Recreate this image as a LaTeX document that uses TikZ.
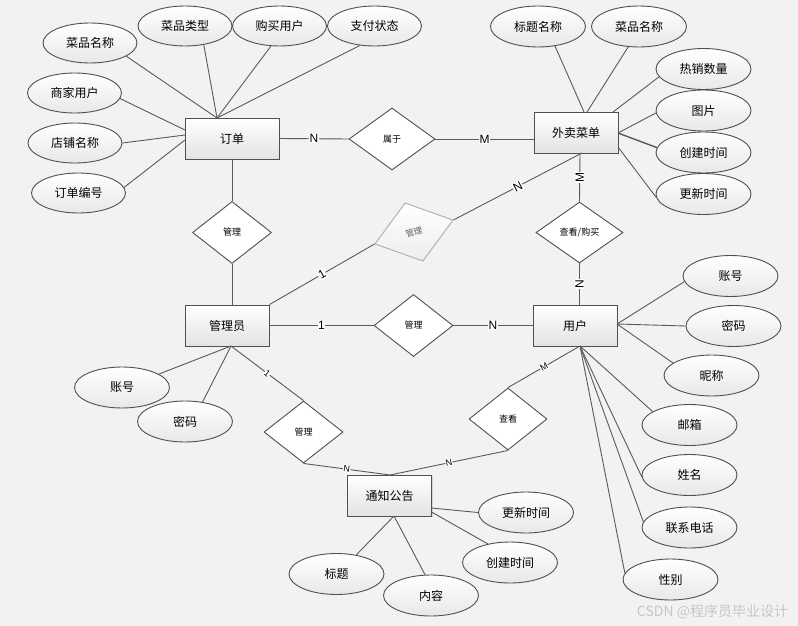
\documentclass[tikz,border=0pt]{standalone}
\usepackage{fontspec}
\setmainfont{Liberation Sans}
\newfontfamily\cjk{Noto Sans CJK SC}
\usetikzlibrary{shapes.geometric,shadows}
\definecolor{bg}{HTML}{F2F2F2}
\definecolor{ln}{HTML}{5A5A5A}
\definecolor{bd}{HTML}{505050}
\begin{document}
\begin{tikzpicture}[x=1pt,y=-1pt,
  attr/.style={ellipse,draw=bd,line width=0.9pt,top color=white,bottom color=gray!18,minimum width=95pt,minimum height=41pt,inner sep=0pt,font=\cjk\fontsize{12}{12}\selectfont},
  ent/.style={rectangle,draw=bd,line width=0.9pt,top color=white,bottom color=gray!22,minimum width=84pt,minimum height=41pt,inner sep=0pt,font=\cjk\fontsize{12}{12}\selectfont,drop shadow={shadow xshift=1pt,shadow yshift=-1pt,opacity=0.25}},
  rel/.style={diamond,draw=bd,line width=0.9pt,fill=white,minimum width=79pt,minimum height=62pt,inner sep=0pt,font=\cjk\fontsize{9}{9}\selectfont},
  card/.style={fill=white,inner sep=0.6pt,font=\fontsize{12}{12}\selectfont},
  cards/.style={fill=white,inner sep=0.4pt,font=\fontsize{9}{9}\selectfont},
  conn/.style={draw=ln,line width=0.9pt}
]
\fill[bg] (0,0) rectangle (798,626);
\useasboundingbox (0,0) rectangle (798,626);

% entities
\node[ent,minimum width=94pt] (dd) at (232,138.5) {订单};
\node[ent] (wm) at (576,132.5) {外卖菜单};
\node[ent] (gly) at (227,325.5) {管理员};
\node[ent] (yh) at (575,325.5) {用户};
\node[ent] (tz) at (389.5,495.5) {通知公告};

% relationships
\node[rel,minimum width=86pt] (sy) at (392,139) {属于};
\node[rel] (gl1) at (232,232.5) {管理};
\node[rel,minimum width=87pt,minimum height=61pt] (ckgm) at (579.5,232.5) {查看/购买};
\node[rel] (gl2) at (413.5,325.5) {管理};
\node[rel,minimum width=82pt,minimum height=61pt,rotate=17,draw=gray!65,top color=white,bottom color=gray!14,text=gray!75!black,font=\cjk\fontsize{8.5}{8.5}\selectfont] (gd) at (414,232) {管理};
\node[rel] (gl3) at (303.5,432) {管理};
\node[rel,minimum width=78pt] (ck) at (508,419) {查看};

% attributes of 订单
\node[attr,minimum width=94pt,minimum height=40pt] (a1) at (90,43) {菜品名称};
\node[attr,minimum width=94pt,minimum height=40pt] (a2) at (185,26) {菜品类型};
\node[attr,minimum width=94pt,minimum height=40pt] (a3) at (279.5,26) {购买用户};
\node[attr,minimum width=94pt,minimum height=40pt] (a4) at (374.5,26) {支付状态};
\node[attr,minimum width=94pt,minimum height=40pt] (a5) at (74.5,93) {商家用户};
\node[attr,minimum width=94pt,minimum height=40pt] (a6) at (75,143) {店铺名称};
\node[attr,minimum width=94pt,minimum height=40pt] (a7) at (78.5,193) {订单编号};
% attributes of 外卖菜单
\node[attr] (b1) at (538,26.5) {标题名称};
\node[attr] (b2) at (639,26.5) {菜品名称};
\node[attr] (b3) at (703.5,69) {热销数量};
\node[attr] (b4) at (703.5,110.5) {图片};
\node[attr] (b5) at (703.5,152.5) {创建时间};
\node[attr] (b6) at (703.5,194) {更新时间};
% attributes of 管理员
\node[attr] (c1) at (122,387.5) {账号};
\node[attr] (c2) at (185,421.5) {密码};
% attributes of 用户
\node[attr] (d1) at (730.5,276) {账号};
\node[attr] (d2) at (733.5,326) {密码};
\node[attr] (d3) at (711.5,375.5) {昵称};
\node[attr] (d4) at (689.5,425) {邮箱};
\node[attr] (d5) at (689.5,475) {姓名};
\node[attr] (d6) at (689.5,527.5) {联系电话};
\node[attr] (d7) at (670.5,579.5) {性别};
% attributes of 通知公告
\node[attr] (e1) at (526,512.5) {更新时间};
\node[attr] (e2) at (510,562.5) {创建时间};
\node[attr] (e3) at (336.5,574) {标题};
\node[attr] (e4) at (431,595.5) {内容};

% attach points
\coordinate (ddT) at (217,118);
\coordinate (ddL1) at (185,130);
\coordinate (ddL2) at (185,135);
\coordinate (ddL3) at (185,140);
\coordinate (wmT1) at (584,112);
\coordinate (wmT2) at (587,112);
\coordinate (wmT3) at (613,112);
\coordinate (wmR) at (618,133);
\coordinate (wmR2) at (618,147);
\coordinate (wmL) at (534,139);
\coordinate (wmB) at (580,153);
\coordinate (wmB2) at (582,153);
\coordinate (glyB) at (231,346);
\coordinate (yhR) at (617,324);
\coordinate (yhB) at (580,346);
\coordinate (tzT) at (390,475);
\coordinate (tzR1) at (431.5,508);
\coordinate (tzR2) at (431.5,512);
\coordinate (tzB) at (394,516);

% attribute connectors
\draw[conn] (a1.-20) -- (ddT);
\draw[conn] (a2.-45) -- (ddT);
\draw[conn] (a3.-113) -- (ddT);
\draw[conn] (a4.-127) -- (ddT);
\draw[conn] (a5.-7) -- (ddL1);
\draw[conn] (a6.0) -- (ddL2);
\draw[conn] (a7.7) -- (ddL3);

\draw[conn] (b1.-49) -- (wmT1);
\draw[conn] (b2.-118) -- (wmT2);
\draw[conn] (b3.190) -- (wmT3);
\draw[conn] (b4.183) -- (wmR);
\draw[conn,line width=1.4pt] (b5.174) -- (wmR);
\draw[conn] (b6.184) -- (wmR2);

\draw[conn] (c1.20) -- (glyB);
\draw[conn] (c2.48) -- (glyB);

\draw[conn] (d1.187) -- (yhR);
\draw[conn] (d2.180) -- (yhR);
\draw[conn] (d3.162) -- (yhR);
\draw[conn] (d4.160) -- (yhB);
\draw[conn] (d5.182) -- (yhB);
\draw[conn] (d6.173) -- (yhB);
\draw[conn] (d7.172) -- (yhB);

\draw[conn] (e1.180) -- (tzR1);
\draw[conn] (e2.140) -- (tzR2);
\draw[conn] (e3.44) -- (tzB);
\draw[conn] (e4.106) -- (tzB);

% relationship connectors
\draw[conn] (dd.east) -- node[card]{N} (sy.west);
\draw[conn] (sy.east) -- node[card]{M} (wmL);
\draw[conn] (dd.south) -- (gl1.north);
\draw[conn] (gl1.south) -- (gl1.south |- gly.north);
\draw[conn] (wmB) -- node[card,rotate=90]{M} (ckgm.north);
\draw[conn] (ckgm.south) -- node[card,rotate=90]{N} (ckgm.south |- yh.north);
\draw[conn] (gly.north east) -- node[card,sloped]{1} (gd.west);
\draw[conn] (gd.east) -- node[card,sloped]{N} (wmB2);
\draw[conn] (gly.east) -- node[card]{1} (gl2.west);
\draw[conn] (gl2.east) -- node[card]{N} (yh.west);
\draw[conn] (glyB) -- node[cards,sloped]{1} (gl3.north);
\draw[conn] (gl3.south) -- node[cards,sloped]{N} (tzT);
\draw[conn] (ck.south) -- node[cards,sloped]{N} (tzT);
\draw[conn] (ck.north) -- node[cards,sloped]{M} (yhB);

% watermark
\node[font=\cjk\fontsize{14}{14}\selectfont,text=gray!45] (wmk) at (712.5,612) {CSDN @程序员毕业设计};
\end{tikzpicture}
\end{document}
